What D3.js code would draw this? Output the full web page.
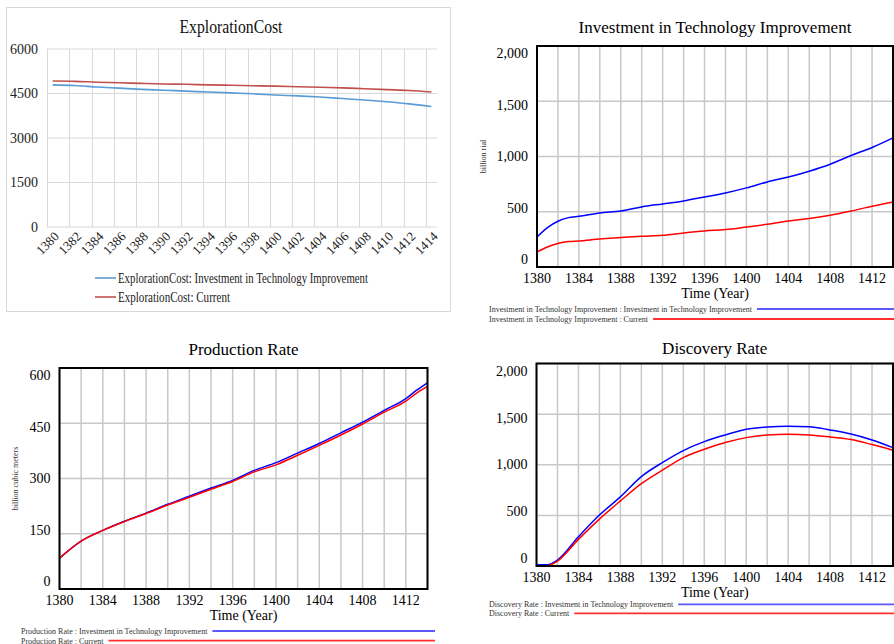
<!DOCTYPE html>
<html>
<head>
<meta charset="utf-8">
<script src="https://cdn.jsdelivr.net/npm/d3@7"></script>
<style>
  body { margin: 0; background: #fff; }
  svg { display: block; }
</style>
</head>
<body>
<div id="chart"></div>
<script>
// ---- data ----
var allYears = d3.range(1380, 1415);           // excel category axis
var costYears = d3.range(1380, 1415, 2);
var costTech = [4790, 4770, 4720, 4680, 4640, 4610, 4580, 4550, 4520, 4490, 4450, 4420, 4380, 4330, 4280, 4220, 4150, 4060];
var costCurrent = [4920, 4910, 4880, 4860, 4840, 4820, 4810, 4790, 4780, 4760, 4750, 4730, 4710, 4690, 4660, 4630, 4600, 4550];
var costTicks = [0, 1500, 3000, 4500, 6000];

var invYears = [1380, 1381, 1382, 1383, 1384, 1386, 1388, 1390, 1392, 1394, 1396, 1398, 1400, 1402, 1404, 1406, 1408, 1410, 1412, 1414];
var invTech = [272, 357, 414, 447, 459, 489, 507, 544, 571, 598, 634, 670, 716, 770, 815, 867, 930, 1009, 1082, 1169];
var invCurrent = [136, 181, 212, 230, 236, 254, 266, 278, 287, 308, 326, 339, 362, 387, 417, 438, 468, 507, 550, 589];

var prodYears = [1380, 1382, 1384, 1386, 1388, 1390, 1392, 1394, 1396, 1398, 1400, 1402, 1404, 1406, 1408, 1410, 1412, 1413, 1414];
var prodTech = [84, 130, 159, 184, 206, 230, 252, 274, 295, 322, 343, 369, 395, 424, 453, 485, 517, 540, 560];
var prodCurrent = [84, 130, 159, 183, 205, 228, 249, 271, 292, 318, 337, 363, 390, 418, 448, 480, 510, 532, 550];

var discYears = [1380, 1381, 1382, 1384, 1386, 1388, 1390, 1392, 1394, 1396, 1398, 1400, 1402, 1404, 1406, 1408, 1410, 1412, 1414];
var discTech = [13, 13, 59, 289, 503, 683, 883, 1021, 1140, 1228, 1294, 1350, 1373, 1380, 1376, 1344, 1304, 1245, 1169];
var discCurrent = [0, 3, 49, 263, 463, 643, 814, 946, 1071, 1153, 1219, 1268, 1295, 1302, 1295, 1275, 1249, 1199, 1143];

var vensimTicks = [0, 500, 1000, 1500, 2000];
var prodTicks = [0, 150, 300, 450, 600];
var xLabelYears = d3.range(1380, 1413, 4);
var xGridYears = d3.range(1380, 1415, 2);

var svg = d3.select("#chart").append("svg")
  .attr("width", 894).attr("height", 644);

// ----------------- Excel style panel (ExplorationCost) -----------------
function drawExcel() {
  var font = "'Liberation Serif', serif";
  var g = svg.append("g");
  g.append("rect")
    .attr("x", 6.5).attr("y", 7.5).attr("width", 444).attr("height", 304)
    .attr("fill", "#fff").attr("stroke", "#d9d9d9").attr("stroke-width", 1);

  var x = d3.scaleBand().domain(allYears).range([47, 437]);
  var y = d3.scaleLinear().domain([0, 6000]).range([227, 49]);

  // horizontal grid
  g.selectAll(".hg").data(costTicks).enter().append("line")
    .attr("x1", 47).attr("x2", 437)
    .attr("y1", function (d) { return y(d); })
    .attr("y2", function (d) { return y(d); })
    .attr("stroke", "#d9d9d9");
  // vertical grid at every second category boundary
  g.selectAll(".vg").data(costYears).enter().append("line")
    .attr("x1", function (d) { return Math.round(x(d)) + 0.5; })
    .attr("x2", function (d) { return Math.round(x(d)) + 0.5; })
    .attr("y1", 49).attr("y2", 227)
    .attr("stroke", "#d9d9d9");

  g.selectAll(".yl").data(costTicks).enter().append("text")
    .attr("x", 38).attr("y", function (d) { return y(d); })
    .attr("dy", "0.35em").attr("text-anchor", "end")
    .style("font-family", font).style("font-size", "14px").attr("fill", "#222")
    .text(function (d) { return d; });

  g.selectAll(".xl").data(costYears).enter().append("text")
    .attr("transform", function (d) {
      return "translate(" + (x(d) + x.bandwidth() / 2 + 4) + ",234) rotate(-45)";
    })
    .attr("text-anchor", "end").attr("dy", "0.35em")
    .style("font-family", font).style("font-size", "13px").attr("fill", "#222")
    .text(function (d) { return d; });

  var line = d3.line()
    .curve(d3.curveMonotoneX)
    .x(function (d) { return x(d[0]) + x.bandwidth() / 2; })
    .y(function (d) { return y(d[1]); });
  var series = [
    { vals: costTech, color: "#5b9bd5", label: "ExplorationCost: Investment in Technology Improvement", w: 250 },
    { vals: costCurrent, color: "#c0504d", label: "ExplorationCost: Current", w: 112 }
  ];
  series.forEach(function (s, i) {
    g.append("path")
      .datum(costYears.map(function (yr, j) { return [yr, s.vals[j]]; }))
      .attr("d", line).attr("fill", "none")
      .attr("stroke", s.color).attr("stroke-width", 1.6);
    var ly = 278 + i * 19;
    g.append("line").attr("x1", 95).attr("x2", 116).attr("y1", ly).attr("y2", ly)
      .attr("stroke", s.color).attr("stroke-width", 1.6);
    g.append("text").attr("x", 118).attr("y", ly).attr("dy", "0.35em")
      .attr("textLength", s.w).attr("lengthAdjust", "spacingAndGlyphs")
      .style("font-family", font).style("font-size", "14px").attr("fill", "#222")
      .text(s.label);
  });

  g.append("text").attr("x", 231).attr("y", 26).attr("dy", "0.35em")
    .attr("text-anchor", "middle")
    .attr("textLength", 103).attr("lengthAdjust", "spacingAndGlyphs")
    .style("font-family", font).style("font-size", "19px").attr("fill", "#111")
    .text("ExplorationCost");
}

// ----------------- Vensim style panels -----------------
function drawVensim(opt) {
  var font = "'Liberation Serif', 'Times New Roman', serif";
  var g = svg.append("g");
  var f = opt.frame;
  var x = d3.scaleLinear().domain([1380, 1414]).range([f.left, f.right]);
  var y = d3.scaleLinear().domain(opt.yDomain).range([f.bottom, f.top]);
  // Vensim spreads its value labels a little inside the frame
  var labelY = d3.scaleLinear().domain([0, opt.ticks.length - 1]).range([f.bottom - 8, f.top + 7.5]);

  g.selectAll(".vg").data(xGridYears).enter().append("line")
    .attr("x1", function (d) { return x(d); }).attr("x2", function (d) { return x(d); })
    .attr("y1", f.top).attr("y2", f.bottom)
    .attr("stroke", "#c8c8c8").attr("stroke-width", 1.5);
  g.selectAll(".hg").data(opt.ticks).enter().append("line")
    .attr("x1", f.left).attr("x2", f.right)
    .attr("y1", function (d) { return y(d); }).attr("y2", function (d) { return y(d); })
    .attr("stroke", "#c8c8c8").attr("stroke-width", 1.5);

  var line = d3.line()
    .curve(d3.curveMonotoneX)
    .x(function (d) { return x(d[0]); })
    .y(function (d) { return y(d[1]); });
  var series = [
    { vals: opt.tech, color: "#0000ff", legendColor: "#5a5aff", label: opt.name + " : Investment in Technology Improvement" },
    { vals: opt.current, color: "#ff0000", legendColor: "#ff3030", label: opt.name + " : Current" }
  ];
  series.forEach(function (s) {
    g.append("path")
      .datum(opt.years.map(function (yr, j) { return [yr, s.vals[j]]; }))
      .attr("d", line).attr("fill", "none")
      .attr("stroke", s.color).attr("stroke-width", 1.5);
  });

  g.append("rect")
    .attr("x", f.left).attr("y", f.top)
    .attr("width", f.right - f.left).attr("height", f.bottom - f.top)
    .attr("fill", "none").attr("stroke", "#000").attr("stroke-width", 2);

  g.selectAll(".yl").data(opt.ticks).enter().append("text")
    .attr("x", f.left - 9)
    .attr("y", function (d, i) { return labelY(i); })
    .attr("dy", "0.35em").attr("text-anchor", "end")
    .style("font-family", font).style("font-size", "14px").attr("fill", "#000")
    .text(function (d) { return opt.fmt(d); });

  g.selectAll(".xl").data(xLabelYears).enter().append("text")
    .attr("x", function (d) { return x(d); }).attr("y", f.bottom + 11.5)
    .attr("dy", "0.35em").attr("text-anchor", "middle")
    .style("font-family", font).style("font-size", "14px").attr("fill", "#000")
    .text(function (d) { return d; });

  g.append("text").attr("x", (f.left + f.right) / 2).attr("y", f.bottom + 26.5)
    .attr("dy", "0.35em").attr("text-anchor", "middle")
    .style("font-family", font).style("font-size", "14px").attr("fill", "#000")
    .text("Time (Year)");

  g.append("text").attr("x", (f.left + f.right) / 2).attr("y", opt.titleY)
    .attr("dy", "0.35em").attr("text-anchor", "middle")
    .style("font-family", font).style("font-size", "17px").attr("fill", "#000")
    .text(opt.name);

  if (opt.yLabel) {
    g.append("text")
      .attr("transform", "translate(" + opt.yLabelX + "," + (f.top + f.bottom) / 2 + ") rotate(-90)")
      .attr("dy", "0.35em").attr("text-anchor", "middle")
      .style("font-family", font).style("font-size", "8px").attr("fill", "#333")
      .text(opt.yLabel);
  }

  series.forEach(function (s, i) {
    var ly = opt.legendY + i * opt.legendGap;
    var t = g.append("text").attr("x", opt.legendX).attr("y", ly)
      .attr("dy", "0.35em")
      .style("font-family", font).style("font-size", "8px").attr("fill", "#333")
      .text(s.label);
    var tw = t.node().getComputedTextLength();
    g.append("line")
      .attr("x1", opt.legendX + tw + 5).attr("x2", opt.legendEnd)
      .attr("y1", ly).attr("y2", ly)
      .attr("stroke", s.legendColor).attr("stroke-width", 1.8);
  });
}

var fmtComma = d3.format(",");

drawExcel();

drawVensim({
  name: "Investment in Technology Improvement",
  frame: { left: 537, right: 893, top: 46, bottom: 267 },
  yDomain: [0, 2000], ticks: vensimTicks, fmt: fmtComma,
  years: invYears, tech: invTech, current: invCurrent,
  titleY: 27, yLabel: "billion rial", yLabelX: 483,
  legendX: 489, legendY: 309, legendGap: 10, legendEnd: 894
});

drawVensim({
  name: "Production Rate",
  frame: { left: 59.5, right: 427.5, top: 368, bottom: 589 },
  yDomain: [0, 600], ticks: prodTicks, fmt: function (d) { return d; },
  years: prodYears, tech: prodTech, current: prodCurrent,
  titleY: 349, yLabel: "billion cubic meters", yLabelX: 15,
  legendX: 21, legendY: 631, legendGap: 9.7, legendEnd: 435
});

drawVensim({
  name: "Discovery Rate",
  frame: { left: 536.5, right: 893, top: 363.5, bottom: 566 },
  yDomain: [0, 2000], ticks: vensimTicks, fmt: fmtComma,
  years: discYears, tech: discTech, current: discCurrent,
  titleY: 348, yLabel: null,
  legendX: 489, legendY: 604.3, legendGap: 9, legendEnd: 894
});
</script>
</body>
</html>
